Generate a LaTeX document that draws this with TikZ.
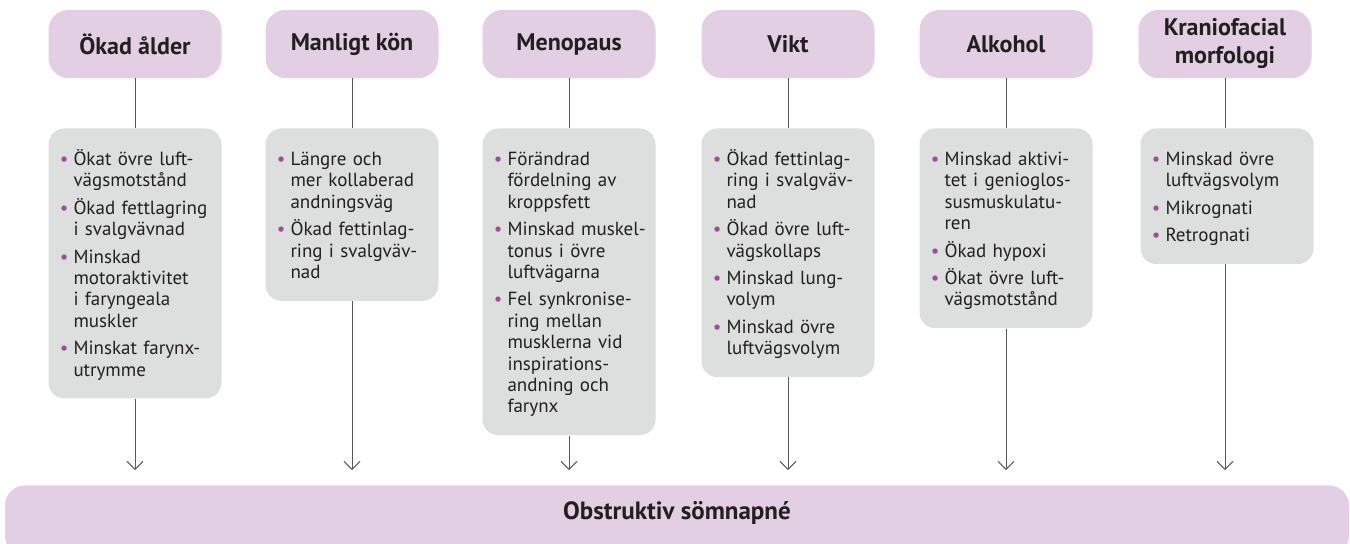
\documentclass[tikz,border=0pt]{standalone}
\usepackage{fontspec}
\setmainfont{PT Sans}
\usetikzlibrary{arrows.meta}
\definecolor{rosa}{HTML}{E3CFE3}
\definecolor{gra}{HTML}{DCDFDE}
\definecolor{prick}{HTML}{A24A9E}
\definecolor{morktext}{HTML}{231F20}
\definecolor{linje}{HTML}{5A5A5A}
% punkt i listan
\newcommand{\pkt}{\leavevmode\llap{\textcolor{prick}{\textbullet}\hspace{2.5pt}}}

\begin{document}
\begin{tikzpicture}[x=0.5pt,y=-0.5pt,
    rubrik/.style={fill=rosa, rounded corners=10pt, minimum width=86.5pt,
      minimum height=34pt, inner sep=0pt, align=center, text=morktext,
      font=\bfseries\fontsize{12}{14}\selectfont},
    lista/.style={fill=gra, rounded corners=8pt, anchor=north, text width=80.5pt,
      inner xsep=3pt, inner ysep=8pt, align=left, text=morktext,
      font=\fontsize{9.5}{10.7}\selectfont,
      execute at begin node={\leftskip=9.5pt\rule{0pt}{10.5pt}},
      execute at end node={\strut}},
    streck/.style={draw=linje, line width=0.5pt},
    pil/.style={streck, -{Straight Barb[length=4pt,width=8pt]}}]
    \useasboundingbox (0,0) rectangle (1350,543);
    \clip (0,0) rectangle (1350,543);
    % riskfaktorer
    \node[rubrik] (h1) at (135,44) {Ökad ålder};
    \node[rubrik] (h2) at (352,44) {Manligt kön};
    \node[rubrik] (h3) at (569,44) {Menopaus};
    \node[rubrik] (h4) at (788,44) {Vikt};
    \node[rubrik] (h5) at (1006,44) {Alkohol};
    \node[rubrik] (h6) at (1225,44) {Kraniofacial\\morfologi};
    % listor
    \node[lista] (g1) at (135,128) {\pkt Ökat övre luft-\\ vägsmotstånd\\[3pt]
      \pkt Ökad fettlagring\\ i svalgvävnad\\[3pt]
      \pkt Minskad\\ motoraktivitet\\ i faryngeala\\ muskler\\[3pt]
      \pkt Minskat farynx-\\ utrymme};
    \node[lista] (g2) at (352,128) {\pkt Längre och\\ mer kollaberad\\ andningsväg\\[3pt]
      \pkt Ökad fettinlag-\\ ring i svalgväv-\\ nad};
    \node[lista] (g3) at (569,128) {\pkt Förändrad\\ fördelning av\\ kroppsfett\\[3pt]
      \pkt Minskad muskel-\\ tonus i övre\\ luftvägarna\\[3pt]
      \pkt Fel synkronise-\\ ring mellan\\ musklerna vid\\ inspirations-\\ andning och\\ farynx};
    \node[lista] (g4) at (788,128) {\pkt Ökad fettinlag-\\ ring i svalgväv-\\ nad\\[3pt]
      \pkt Ökad övre luft-\\ vägskollaps\\[3pt]
      \pkt Minskad lung-\\ volym\\[3pt]
      \pkt Minskad övre\\ luftvägsvolym};
    \node[lista] (g5) at (1006,128) {\pkt Minskad aktivi-\\ tet i genioglos-\\ susmuskulatu-\\ ren\\[3pt]
      \pkt Ökad hypoxi\\[3pt]
      \pkt Ökat övre luft-\\ vägsmotstånd};
    \node[lista] (g6) at (1227,128) {\pkt Minskad övre\\ luftvägsvolym\\[3pt]
      \pkt Mikrognati\\[3pt]
      \pkt Retrognati};
    % resultat
    \node[fill=rosa, rounded corners=10pt, anchor=north, minimum width=672pt,
      inner ysep=8pt, text height=9pt, text depth=10pt, text=morktext,
      font=\bfseries\fontsize{12.5}{14}\selectfont] (osa) at (677,485) {Obstruktiv sömnapné};
    % pilar
    \draw[streck] (h1) -- (g1);
    \draw[streck] (h2) -- (g2);
    \draw[streck] (h3) -- (g3);
    \draw[streck] (h4) -- (g4);
    \draw[streck] (h5) -- (g5);
    \draw[streck] (h6) -- (h6 |- g6.north);
    \draw[pil] (g1) -- ([yshift=7.5pt]g1.south |- osa.north);
    \draw[pil] (g2) -- ([yshift=7.5pt]g2.south |- osa.north);
    \draw[pil] (g3) -- ([yshift=7.5pt]g3.south |- osa.north);
    \draw[pil] (g4) -- ([yshift=7.5pt]g4.south |- osa.north);
    \draw[pil] (g5) -- ([yshift=7.5pt]g5.south |- osa.north);
    \draw[pil] (h6 |- g6.south) -- ([yshift=7.5pt]h6.south |- osa.north);
\end{tikzpicture}
\end{document}
